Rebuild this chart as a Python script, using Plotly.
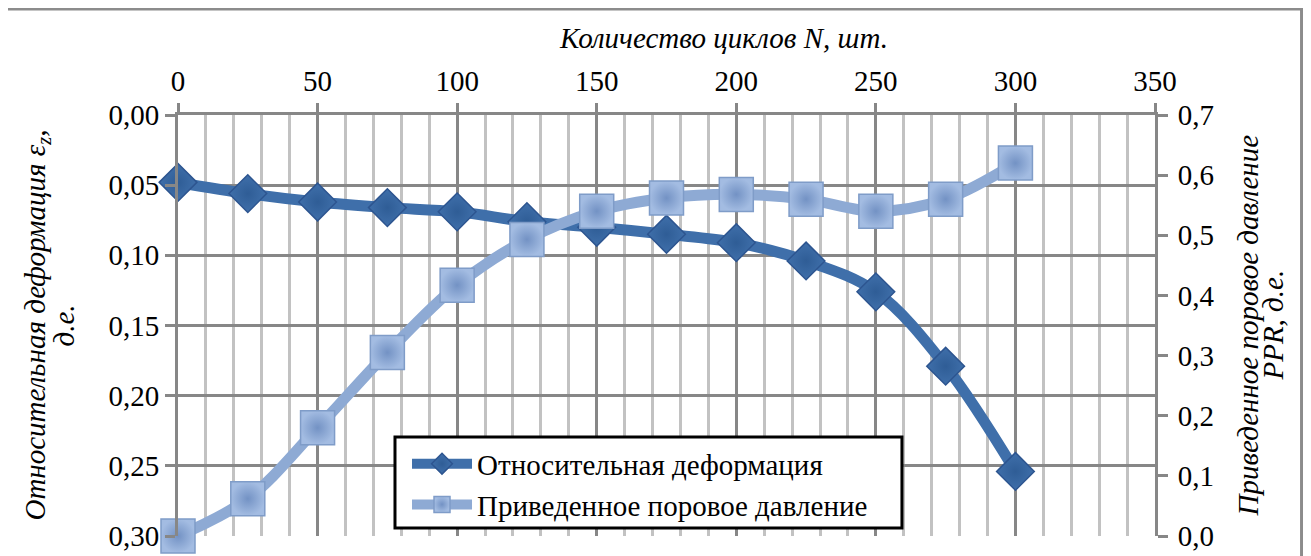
import plotly.graph_objects as go

cycles = [0, 25, 50, 75, 100, 125, 150, 175, 200, 225, 250, 275, 300]
strain = [0.048, 0.056, 0.062, 0.066, 0.069, 0.076, 0.080, 0.085, 0.091, 0.104, 0.126, 0.179, 0.254]
ppr = [0.0, 0.062, 0.180, 0.305, 0.417, 0.493, 0.540, 0.562, 0.568, 0.560, 0.540, 0.560, 0.620]

left_ticks = [0.00, 0.05, 0.10, 0.15, 0.20, 0.25, 0.30]
right_ticks = [0.0, 0.1, 0.2, 0.3, 0.4, 0.5, 0.6, 0.7]
x_ticks = [0, 50, 100, 150, 200, 250, 300, 350]

x_title = "Количество циклов N, шт."
left_title = ["Относительная деформация ε<sub>z</sub>,", "д.е."]
right_title = ["Приведенное поровое давление", "PPR, д.е."]

FONT = "Times New Roman, Liberation Serif, serif"
DARK = "#3f6faa"
LIGHT = "#8eaad4"
GRID = "#878787"
MINOR = "#c2c2c2"
FS = 29

fig = go.Figure()
fig.add_trace(go.Scatter(
    x=cycles, y=strain, name="Относительная деформация", yaxis="y",
    mode="lines+markers", cliponaxis=False,
    line=dict(color=DARK, width=11, shape="spline", smoothing=1),
    marker=dict(symbol="diamond", size=29, color=DARK,
                line=dict(color="#2d5590", width=1.5),
                gradient=dict(type="radial", color="#2f5d96")),
))
fig.add_trace(go.Scatter(
    x=cycles, y=ppr, name="Приведенное поровое давление", yaxis="y2",
    mode="lines+markers", cliponaxis=False,
    line=dict(color=LIGHT, width=11, shape="spline", smoothing=1),
    marker=dict(symbol="square", size=34, color="#a3bce2",
                line=dict(color="#7f9cc8", width=1.5),
                gradient=dict(type="radial", color="#7392c4")),
))

axis_font = dict(family=FONT, size=FS, color="black")

annotations = [
    dict(text=f"<i>{x_title}</i>", xref="paper", yref="paper", x=0.558, y=1.183,
         showarrow=False, font=axis_font, xanchor="center", yanchor="middle"),
    dict(text=f"<i>{left_title[0]}</i>", xref="paper", yref="paper", x=-0.1453, y=0.5,
         showarrow=False, font=axis_font, textangle=-90, xanchor="center", yanchor="middle"),
    dict(text=f"<i>{left_title[1]}</i>", xref="paper", yref="paper", x=-0.1167, y=0.5,
         showarrow=False, font=axis_font, textangle=-90, xanchor="center", yanchor="middle"),
    dict(text=f"<i>{right_title[0]}</i>", xref="paper", yref="paper", x=1.0942, y=0.5,
         showarrow=False, font=axis_font, textangle=-90, xanchor="center", yanchor="middle"),
    dict(text=f"<i>{right_title[1]}</i>", xref="paper", yref="paper", x=1.1198, y=0.5,
         showarrow=False, font=axis_font, textangle=-90, xanchor="center", yanchor="middle"),
]

fig.update_layout(
    width=1303, height=548,
    margin=dict(l=170, r=156, t=107, b=20, autoexpand=False),
    paper_bgcolor="white", plot_bgcolor="white",
    separators=", ",
    font=dict(family=FONT, color="black"),
    showlegend=True,
    legend=dict(
        x=0.2344, y=0.232, xanchor="left", yanchor="top",
        bgcolor="rgba(0,0,0,0)", borderwidth=0,
        font=dict(family=FONT, size=FS, color="black"),
        itemwidth=60, tracegroupgap=0,
    ),
    xaxis=dict(
        side="top", range=[0, 350], tickvals=x_ticks, automargin=False,
        showgrid=True, gridcolor=GRID, gridwidth=3,
        minor=dict(tickvals=list(range(10, 350, 10)), showgrid=True, gridcolor=MINOR, gridwidth=3),
        showline=True, linecolor=GRID, linewidth=3,
        ticks="outside", ticklen=9, tickwidth=3, tickcolor=GRID,
        tickfont=axis_font, zeroline=False,
    ),
    yaxis=dict(
        range=[0.30, 0.0], tickvals=left_ticks, tickformat=".2f", automargin=False,
        showgrid=True, gridcolor=GRID, gridwidth=3,
        showline=True, linecolor=GRID, linewidth=3,
        ticks="outside", ticklen=10, tickwidth=3, tickcolor=GRID,
        tickfont=axis_font, zeroline=False,
    ),
    yaxis2=dict(
        overlaying="y", side="right", range=[0, 0.7], tickvals=right_ticks, tickformat=".1f",
        automargin=False,
        showgrid=False, showline=True, linecolor=GRID, linewidth=3,
        ticks="outside", ticklen=10, tickwidth=3, tickcolor=GRID,
        tickfont=axis_font, zeroline=False, ticklabelstandoff=4,
    ),
    annotations=annotations,
    shapes=[
        dict(type="rect", xref="paper", yref="paper",
             x0=-0.4, x1=1.150, y0=-0.3, y1=1.252,
             line=dict(color="#8c8c8c", width=3), layer="below"),
        dict(type="rect", xref="paper", yref="paper",
             x0=0.2221, x1=0.741, y0=0.019, y1=0.235,
             line=dict(color="black", width=3), fillcolor="white", layer="above"),
    ],
)

fig.write_html("out.html")
